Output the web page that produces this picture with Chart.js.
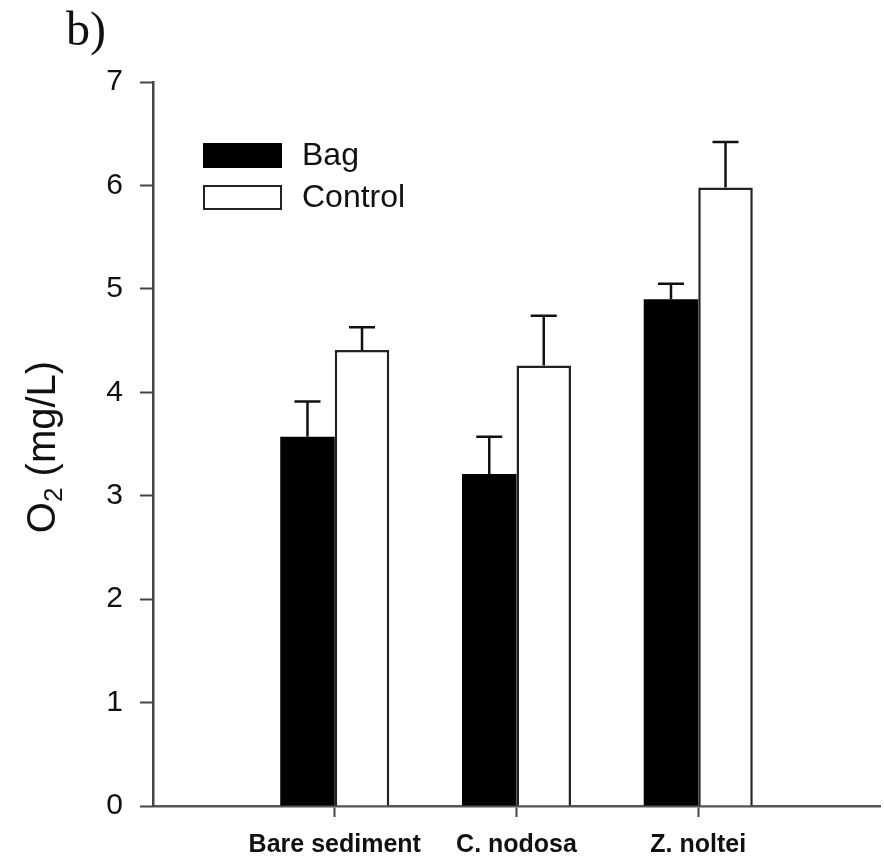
<!DOCTYPE html>
<html>
<head>
<meta charset="utf-8">
<script src="https://cdn.jsdelivr.net/npm/chart.js@4/dist/chart.umd.min.js"></script>
<style>
  html, body { margin: 0; padding: 0; background: #fff; }
  #wrap { width: 884px; height: 865px; }
</style>
</head>
<body>
<div id="wrap"><canvas id="c" width="884" height="865"></canvas></div>
<script>
const categories = ['Bare sediment', 'C. nodosa', 'Z. noltei'];
const seriesNames = ['Bag', 'Control'];
const bagValues = [3.57, 3.21, 4.90];
const bagErrors = [0.34, 0.36, 0.15];
const controlValues = [4.41, 4.26, 5.98];
const controlErrors = [0.22, 0.48, 0.44];
const yTickValues = [0, 1, 2, 3, 4, 5, 6, 7];
const panelLabel = 'b)';
const yTitleMain = 'O';
const yTitleSub = '2';
const yTitleRest = ' (mg/L)';

const errorSets = [bagErrors, controlErrors];
const valueSets = [bagValues, controlValues];

const errorBarPlugin = {
  id: 'errorBars',
  afterDatasetsDraw(chart) {
    const ctx = chart.ctx;
    const yScale = chart.scales.y;
    ctx.save();
    ctx.strokeStyle = '#111';
    ctx.lineWidth = 2.5;
    chart.data.datasets.forEach((ds, di) => {
      const meta = chart.getDatasetMeta(di);
      meta.data.forEach((el, j) => {
        const top = yScale.getPixelForValue(valueSets[di][j] + errorSets[di][j]);
        const x = el.x;
        ctx.beginPath();
        ctx.moveTo(x, el.y);
        ctx.lineTo(x, top);
        ctx.moveTo(x - 13, top);
        ctx.lineTo(x + 13, top);
        ctx.stroke();
      });
    });
    ctx.restore();
  }
};

const decorPlugin = {
  id: 'decor',
  afterDraw(chart) {
    const ctx = chart.ctx;
    const area = chart.chartArea;
    ctx.save();
    // panel label
    ctx.fillStyle = '#111';
    ctx.font = '48px "Liberation Serif", "Times New Roman", serif';
    ctx.textBaseline = 'alphabetic';
    ctx.textAlign = 'left';
    ctx.fillText(panelLabel, 66, 45);

    // legend
    const lx = 203, boxW = 79, boxH = 25;
    const rows = [143, 185];
    chart.data.datasets.forEach((ds, i) => {
      const y = rows[i];
      ctx.fillStyle = ds.backgroundColor;
      ctx.fillRect(lx, y, boxW, boxH);
      ctx.strokeStyle = ds.borderColor;
      ctx.lineWidth = 2;
      ctx.strokeRect(lx + 1, y + 1, boxW - 2, boxH - 2);
      ctx.fillStyle = '#111';
      ctx.font = '32px "Liberation Sans", Arial, sans-serif';
      ctx.textBaseline = 'middle';
      ctx.fillText(ds.label, 302, y + boxH / 2 + 1);
    });

    // y title with subscript
    ctx.translate(44, (area.top + area.bottom) / 2 + 3);
    ctx.rotate(-Math.PI / 2);
    const big = '40px "Liberation Sans", Arial, sans-serif';
    const small = '26px "Liberation Sans", Arial, sans-serif';
    ctx.font = big;
    const w1 = ctx.measureText(yTitleMain).width;
    const w3 = ctx.measureText(yTitleRest).width;
    ctx.font = small;
    const w2 = ctx.measureText(yTitleSub).width;
    let x = -(w1 + w2 + w3) / 2;
    ctx.textBaseline = 'middle';
    ctx.fillStyle = '#111';
    ctx.font = big;
    ctx.fillText(yTitleMain, x, 0);
    x += w1;
    ctx.font = small;
    ctx.fillText(yTitleSub, x, 11);
    x += w2;
    ctx.font = big;
    ctx.fillText(yTitleRest, x, 0);
    ctx.restore();
  }
};

new Chart(document.getElementById('c'), {
  type: 'bar',
  data: {
    datasets: [
      {
        label: seriesNames[0],
        data: bagValues.map((v, i) => ({ x: i + 1, y: v })),
        backgroundColor: '#000',
        borderColor: '#000',
        borderWidth: 0
      },
      {
        label: seriesNames[1],
        data: controlValues.map((v, i) => ({ x: i + 1, y: v })),
        backgroundColor: '#fff',
        borderColor: '#222',
        borderWidth: 2.5
      }
    ]
  },
  options: {
    responsive: false,
    animation: false,
    devicePixelRatio: 1,
    categoryPercentage: 0.6,
    barPercentage: 1.0,
    layout: { padding: { top: 82, right: 4, left: 0, bottom: 0 } },
    plugins: {
      legend: { display: false },
      tooltip: { enabled: false }
    },
    scales: {
      x: {
        type: 'linear',
        min: 0,
        max: 4,
        offset: false,
        afterBuildTicks: (scale) => {
          scale.ticks = categories.map((c, i) => ({ value: i + 1 }));
        },
        afterFit: (scale) => { scale.height = 59; },
        grid: {
          offset: false,
          drawOnChartArea: false,
          drawTicks: true,
          tickLength: 11,
          tickWidth: 2,
          tickColor: '#444'
        },
        border: { display: true, color: '#555', width: 2.5 },
        ticks: {
          autoSkip: false,
          maxRotation: 0,
          padding: 13,
          color: '#111',
          font: { family: '"Liberation Sans", Arial, sans-serif', size: 25, weight: 'bold' },
          callback: (value) => categories[value - 1] ?? ''
        }
      },
      y: {
        min: 0,
        max: 7,
        afterBuildTicks: (scale) => {
          scale.ticks = yTickValues.map(v => ({ value: v }));
        },
        afterFit: (scale) => { scale.width = 153; },
        grid: {
          drawOnChartArea: false,
          drawTicks: true,
          tickLength: 13,
          tickWidth: 2,
          tickColor: '#444'
        },
        border: { display: true, color: '#444', width: 2.5 },
        ticks: {
          padding: 17,
          color: '#111',
          font: { family: '"Liberation Sans", Arial, sans-serif', size: 30 }
        }
      }
    }
  },
  plugins: [errorBarPlugin, decorPlugin]
});
</script>
</body>
</html>
